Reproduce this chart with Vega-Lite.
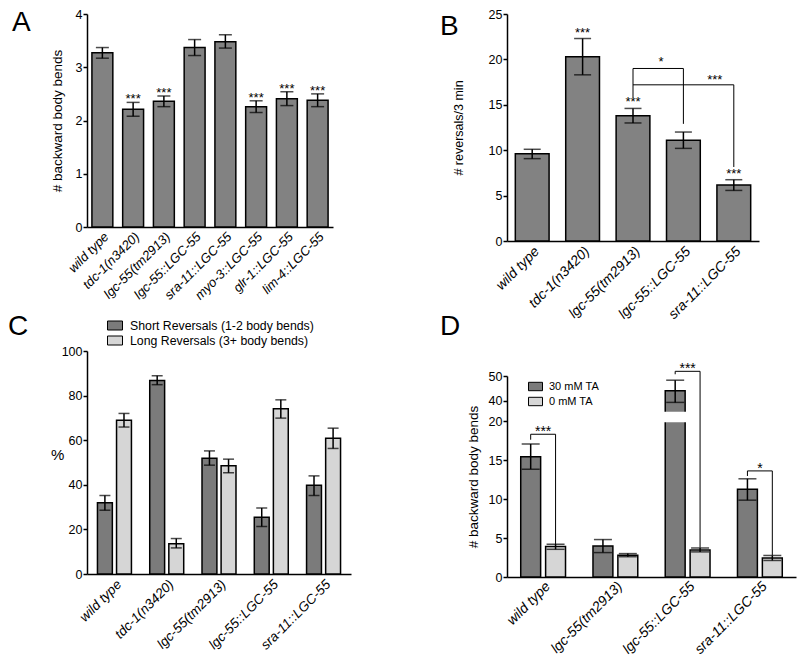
{
  "$schema": "https://vega.github.io/schema/vega-lite/v6.json",
  "padding": {"left": 8, "top": 8, "right": 3, "bottom": 0},
  "background": "white",
  "config": {
    "font": "Liberation Sans",
    "view": {"stroke": null},
    "axis": {"domainColor": "black", "domainWidth": 1.5, "tickColor": "black", "tickWidth": 1.5, "tickSize": 4, "labelColor": "black", "labelFontSize": 12.5, "labelPadding": 1, "titleColor": "black", "titleFontSize": 13.5, "titleFontWeight": "normal", "grid": false},
    "axisX": {"ticks": false, "labelAngle": -45, "labelFontStyle": "italic", "labelFontSize": 13.5, "labelPadding": 3},
    "title": {"fontSize": 28, "fontWeight": "normal", "anchor": "start", "frame": "group", "baseline": "top", "color": "black"}
  },
  "resolve": {"scale": {"color": "independent", "xOffset": "independent"}, "legend": {"color": "independent"}},
  "spacing": 89,
  "hconcat": [
    {
      "spacing": 10,
      "vconcat": [
        {
          "title": {"text": "A", "dx": -75, "offset": -28.5},
          "width": 246,
          "height": 213,
          "data": {"values": [
            {"g": "wild type", "m": 3.27, "lo": 3.17, "hi": 3.37, "s": ""},
            {"g": "tdc-1(n3420)", "m": 2.21, "lo": 2.08, "hi": 2.34, "s": "***"},
            {"g": "lgc-55(tm2913)", "m": 2.36, "lo": 2.26, "hi": 2.46, "s": "***"},
            {"g": "lgc-55::LGC-55", "m": 3.37, "lo": 3.22, "hi": 3.52, "s": ""},
            {"g": "sra-11::LGC-55", "m": 3.48, "lo": 3.36, "hi": 3.61, "s": ""},
            {"g": "myo-3::LGC-55", "m": 2.26, "lo": 2.15, "hi": 2.37, "s": "***"},
            {"g": "glr-1::LGC-55", "m": 2.41, "lo": 2.28, "hi": 2.54, "s": "***"},
            {"g": "lim-4::LGC-55", "m": 2.38, "lo": 2.26, "hi": 2.5, "s": "***"}
          ]},
          "encoding": {"x": {"field": "g", "type": "nominal", "sort": null, "title": null, "scale": {"paddingInner": 0.32, "paddingOuter": 0.16}, "axis": {"labelFontSize": 13}}},
          "layer": [
            {"mark": {"type": "bar", "fill": "#828282", "stroke": "black", "strokeWidth": 1.5},
             "encoding": {"y": {"field": "m", "type": "quantitative", "title": "# backward body bends", "scale": {"domain": [0, 4], "nice": false}, "axis": {"values": [0, 1, 2, 3, 4], "format": "d", "titlePadding": 11}}}},
            {"mark": {"type": "rule", "color": "black", "strokeWidth": 1.5},
             "encoding": {"y": {"field": "lo", "type": "quantitative", "title": "# backward body bends"}, "y2": {"field": "hi"}}},
            {"mark": {"type": "tick", "color": "black", "thickness": 1.5, "size": 13},
             "encoding": {"y": {"field": "lo", "type": "quantitative", "title": "# backward body bends"}}},
            {"mark": {"type": "tick", "color": "black", "thickness": 1.5, "size": 13},
             "encoding": {"y": {"field": "hi", "type": "quantitative", "title": "# backward body bends"}}},
            {"mark": {"type": "text", "baseline": "middle", "dy": -3, "fontSize": 13, "color": "black"},
             "encoding": {"y": {"field": "hi", "type": "quantitative", "title": "# backward body bends"}, "text": {"field": "s"}}}
          ]
        },
        {
          "title": {"text": "C", "dx": -79, "offset": -23.5},
          "width": 264,
          "height": 223,
          "data": {"values": [
            {"g": "wild type", "s": "Short Reversals (1-2 body bends)", "m": 31.9, "lo": 28.6, "hi": 35.2},
            {"g": "wild type", "s": "Long Reversals (3+ body bends)", "m": 68.9, "lo": 65.9, "hi": 72.0},
            {"g": "tdc-1(n3420)", "s": "Short Reversals (1-2 body bends)", "m": 86.8, "lo": 84.9, "hi": 88.9},
            {"g": "tdc-1(n3420)", "s": "Long Reversals (3+ body bends)", "m": 13.6, "lo": 11.7, "hi": 15.9},
            {"g": "lgc-55(tm2913)", "s": "Short Reversals (1-2 body bends)", "m": 51.9, "lo": 48.8, "hi": 55.2},
            {"g": "lgc-55(tm2913)", "s": "Long Reversals (3+ body bends)", "m": 48.5, "lo": 45.4, "hi": 51.5},
            {"g": "lgc-55::LGC-55", "s": "Short Reversals (1-2 body bends)", "m": 25.4, "lo": 21.3, "hi": 29.6},
            {"g": "lgc-55::LGC-55", "s": "Long Reversals (3+ body bends)", "m": 74.1, "lo": 69.9, "hi": 78.1},
            {"g": "sra-11::LGC-55", "s": "Short Reversals (1-2 body bends)", "m": 39.8, "lo": 35.2, "hi": 44.0},
            {"g": "sra-11::LGC-55", "s": "Long Reversals (3+ body bends)", "m": 60.9, "lo": 56.3, "hi": 65.4}
          ]},
          "encoding": {
            "x": {"field": "g", "type": "nominal", "sort": null, "title": null, "scale": {"paddingInner": 0.35, "paddingOuter": 0.2}, "axis": {"labelFontSize": 13.5}},
            "xOffset": {"field": "s", "type": "nominal", "scale": {"domain": ["Short Reversals (1-2 body bends)", "Long Reversals (3+ body bends)"], "paddingInner": 0.22, "paddingOuter": 0}}
          },
          "layer": [
            {"mark": {"type": "bar", "stroke": "black", "strokeWidth": 1.5},
             "encoding": {
               "y": {"field": "m", "type": "quantitative", "title": "%", "scale": {"domain": [0, 100], "nice": false}, "axis": {"values": [0, 20, 40, 60, 80, 100], "format": "d", "titleAngle": 0, "titleFontSize": 15, "titlePadding": 4}},
               "color": {"field": "s", "type": "nominal", "scale": {"domain": ["Short Reversals (1-2 body bends)", "Long Reversals (3+ body bends)"], "range": ["#7b7b7b", "#d6d6d6"]},
                 "legend": {"title": null, "orient": "none", "legendX": 20, "legendY": -33.5, "symbolType": "M-1,-0.6H1V0.6H-1Z", "symbolSize": 225, "symbolStrokeColor": "black", "symbolStrokeWidth": 1, "labelFontSize": 12.3, "labelLimit": 0, "labelOffset": 7, "rowPadding": 0, "labelColor": "black"}}
             }},
            {"mark": {"type": "rule", "color": "black", "strokeWidth": 1.5},
             "encoding": {"y": {"field": "lo", "type": "quantitative", "title": "%"}, "y2": {"field": "hi"}}},
            {"mark": {"type": "tick", "color": "black", "thickness": 1.5, "size": 11},
             "encoding": {"y": {"field": "lo", "type": "quantitative", "title": "%"}}},
            {"mark": {"type": "tick", "color": "black", "thickness": 1.5, "size": 11},
             "encoding": {"y": {"field": "hi", "type": "quantitative", "title": "%"}}}
          ]
        }
      ],
      "resolve": {"scale": {"color": "independent", "xOffset": "independent"}, "legend": {"color": "independent"}}
    },
    {
      "spacing": -10,
      "vconcat": [
        {
          "title": {"text": "B", "dx": -67, "offset": -32.5},
          "width": 252,
          "height": 227,
          "encoding": {"x": {"field": "g", "type": "nominal", "sort": null, "title": null, "scale": {"paddingInner": 0.33, "paddingOuter": 0.165}, "axis": {"labelFontSize": 14}}},
          "layer": [
            {"data": {"values": [
              {"g": "wild type", "m": 9.6, "lo": 9.07, "hi": 10.1, "s": ""},
              {"g": "tdc-1(n3420)", "m": 20.3, "lo": 18.3, "hi": 22.3, "s": "***"},
              {"g": "lgc-55(tm2913)", "m": 13.8, "lo": 13.0, "hi": 14.6, "s": "***"},
              {"g": "lgc-55::LGC-55", "m": 11.1, "lo": 10.2, "hi": 12.0, "s": ""},
              {"g": "sra-11::LGC-55", "m": 6.18, "lo": 5.57, "hi": 6.75, "s": "***"}
             ]},
             "layer": [
              {"mark": {"type": "bar", "fill": "#828282", "stroke": "black", "strokeWidth": 1.5},
               "encoding": {"y": {"field": "m", "type": "quantitative", "title": "# reversals/3 min", "scale": {"domain": [0, 25], "nice": false}, "axis": {"values": [0, 5, 10, 15, 20, 25], "format": "d", "titleFontSize": 12.5, "titlePadding": 23}}}},
              {"mark": {"type": "rule", "color": "black", "strokeWidth": 1.5},
               "encoding": {"y": {"field": "lo", "type": "quantitative", "title": "# reversals/3 min"}, "y2": {"field": "hi"}}},
              {"mark": {"type": "tick", "color": "black", "thickness": 1.5, "size": 17},
               "encoding": {"y": {"field": "lo", "type": "quantitative", "title": "# reversals/3 min"}}},
              {"mark": {"type": "tick", "color": "black", "thickness": 1.5, "size": 17},
               "encoding": {"y": {"field": "hi", "type": "quantitative", "title": "# reversals/3 min"}}},
              {"mark": {"type": "text", "baseline": "middle", "dy": -6, "fontSize": 13, "color": "black"},
               "encoding": {"y": {"field": "hi", "type": "quantitative", "title": "# reversals/3 min"}, "text": {"field": "s"}}}
             ]},
            {"data": {"values": [
              {"b": 1, "o": 1, "g": "lgc-55(tm2913)", "v": 15.8},
              {"b": 1, "o": 2, "g": "lgc-55(tm2913)", "v": 19.0},
              {"b": 1, "o": 3, "g": "lgc-55::LGC-55", "v": 19.0},
              {"b": 1, "o": 4, "g": "lgc-55::LGC-55", "v": 12.9},
              {"b": 2, "o": 1, "g": "lgc-55(tm2913)", "v": 17.2},
              {"b": 2, "o": 2, "g": "sra-11::LGC-55", "v": 17.2},
              {"b": 2, "o": 3, "g": "sra-11::LGC-55", "v": 8.15}
             ]},
             "mark": {"type": "line", "color": "black", "strokeWidth": 1},
             "encoding": {"y": {"field": "v", "type": "quantitative", "title": "# reversals/3 min"}, "detail": {"field": "b"}, "order": {"field": "o"}}},
            {"data": {"values": [{"g": "lgc-55(tm2913)", "v": 19.0, "s": "*"}]},
             "mark": {"type": "text", "baseline": "middle", "dy": -6, "dx": 28, "fontSize": 13, "color": "black"},
             "encoding": {"y": {"field": "v", "type": "quantitative", "title": "# reversals/3 min"}, "text": {"field": "s"}}},
            {"data": {"values": [{"g": "sra-11::LGC-55", "v": 17.2, "s": "***"}]},
             "mark": {"type": "text", "baseline": "middle", "dy": -5, "dx": -19, "fontSize": 13, "color": "black"},
             "encoding": {"y": {"field": "v", "type": "quantitative", "title": "# reversals/3 min"}, "text": {"field": "s"}}}
          ]
        },
        {
          "title": {"text": "D", "dx": -67, "offset": 21.5},
          "width": 289,
          "height": 201,
          "encoding": {
            "x": {"field": "g", "type": "nominal", "sort": null, "title": null, "scale": {"paddingInner": 0.38, "paddingOuter": 0.19}, "axis": {"labelFontSize": 14, "labelPadding": 2}}
          },
          "layer": [
            {"data": {"values": [
              {"g": "wild type", "c": "30 mM TA", "m": 15.42, "lo": 13.83, "hi": 17.05},
              {"g": "wild type", "c": "0 mM TA", "m": 3.9, "lo": 3.55, "hi": 4.2},
              {"g": "lgc-55(tm2913)", "c": "30 mM TA", "m": 3.98, "lo": 3.13, "hi": 4.8},
              {"g": "lgc-55(tm2913)", "c": "0 mM TA", "m": 2.8, "lo": 2.6, "hi": 3.0},
              {"g": "lgc-55::LGC-55", "c": "30 mM TA", "m": 44.0, "lo": 39.3, "hi": 48.3},
              {"g": "lgc-55::LGC-55", "c": "0 mM TA", "m": 3.47, "lo": 3.22, "hi": 3.72},
              {"g": "sra-11::LGC-55", "c": "30 mM TA", "m": 11.26, "lo": 9.85, "hi": 12.59},
              {"g": "sra-11::LGC-55", "c": "0 mM TA", "m": 2.44, "lo": 2.12, "hi": 2.76}
             ]},
             "encoding": {"xOffset": {"field": "c", "type": "nominal", "scale": {"domain": ["30 mM TA", "0 mM TA"], "paddingInner": 0.2, "paddingOuter": 0}}},
             "layer": [
              {"mark": {"type": "bar", "stroke": "black", "strokeWidth": 1.5},
               "encoding": {
                 "y": {"field": "m", "type": "quantitative", "title": "# backward body bends", "scale": {"domain": [0, 20, 35, 50], "range": [201, 45, 37, 0], "nice": false, "zero": false}, "axis": {"values": [0, 5, 10, 15, 20, 40, 50], "tickCount": 12, "format": "d", "labelOverlap": false, "titlePadding": 8}},
                 "color": {"field": "c", "type": "nominal", "scale": {"domain": ["30 mM TA", "0 mM TA"], "range": ["#7b7b7b", "#d6d6d6"]},
                   "legend": {"title": null, "orient": "none", "legendX": 21, "legendY": 3, "symbolType": "M-1,-0.6H1V0.6H-1Z", "symbolSize": 196, "symbolStrokeColor": "black", "symbolStrokeWidth": 1, "labelFontSize": 11, "labelLimit": 0, "labelOffset": 6, "rowPadding": 1, "labelColor": "black"}}
               }},
              {"mark": {"type": "rule", "color": "black", "strokeWidth": 1.5},
               "encoding": {"y": {"field": "lo", "type": "quantitative", "title": "# backward body bends"}, "y2": {"field": "hi"}}},
              {"mark": {"type": "tick", "color": "black", "thickness": 1.5, "size": 18},
               "encoding": {"y": {"field": "lo", "type": "quantitative", "title": "# backward body bends"}}},
              {"mark": {"type": "tick", "color": "black", "thickness": 1.5, "size": 18},
               "encoding": {"y": {"field": "hi", "type": "quantitative", "title": "# backward body bends"}}}
             ]},
            {"data": {"values": [{"g": "lgc-55::LGC-55", "c": "30 mM TA", "a": 20, "b": 35}]},
             "mark": {"type": "bar", "fill": "white", "stroke": "white", "strokeWidth": 2.5},
             "encoding": {"xOffset": {"field": "c", "type": "nominal"}, "y": {"field": "a", "type": "quantitative", "title": "# backward body bends"}, "y2": {"field": "b"}}},
            {"data": {"values": [
              {"b": 1, "o": 1, "g": "wild type", "c": "30 mM TA", "v": 17.6},
              {"b": 1, "o": 2, "g": "wild type", "c": "30 mM TA", "v": 18.3},
              {"b": 1, "o": 3, "g": "wild type", "c": "0 mM TA", "v": 18.3},
              {"b": 1, "o": 4, "g": "wild type", "c": "0 mM TA", "v": 4.1},
              {"b": 2, "o": 1, "g": "lgc-55::LGC-55", "c": "30 mM TA", "v": 50.7},
              {"b": 2, "o": 2, "g": "lgc-55::LGC-55", "c": "30 mM TA", "v": 51.9},
              {"b": 2, "o": 3, "g": "lgc-55::LGC-55", "c": "0 mM TA", "v": 51.9},
              {"b": 2, "o": 4, "g": "lgc-55::LGC-55", "c": "0 mM TA", "v": 3.75},
              {"b": 3, "o": 1, "g": "sra-11::LGC-55", "c": "30 mM TA", "v": 12.95},
              {"b": 3, "o": 2, "g": "sra-11::LGC-55", "c": "30 mM TA", "v": 13.6},
              {"b": 3, "o": 3, "g": "sra-11::LGC-55", "c": "0 mM TA", "v": 13.6},
              {"b": 3, "o": 4, "g": "sra-11::LGC-55", "c": "0 mM TA", "v": 2.8}
             ]},
             "mark": {"type": "line", "color": "black", "strokeWidth": 1},
             "encoding": {"xOffset": {"field": "c", "type": "nominal"}, "y": {"field": "v", "type": "quantitative", "title": "# backward body bends"}, "detail": {"field": "b"}, "order": {"field": "o"}}},
            {"data": {"values": [
              {"g": "wild type", "v": 18.3, "s": "***"},
              {"g": "lgc-55::LGC-55", "v": 51.9, "s": "***"},
              {"g": "sra-11::LGC-55", "v": 13.6, "s": "*"}
             ]},
             "mark": {"type": "text", "baseline": "middle", "dy": -2, "fontSize": 14, "color": "black"},
             "encoding": {"y": {"field": "v", "type": "quantitative", "title": "# backward body bends"}, "text": {"field": "s"}}}
          ]
        }
      ],
      "resolve": {"scale": {"color": "independent", "xOffset": "independent"}, "legend": {"color": "independent"}}
    }
  ]
}
